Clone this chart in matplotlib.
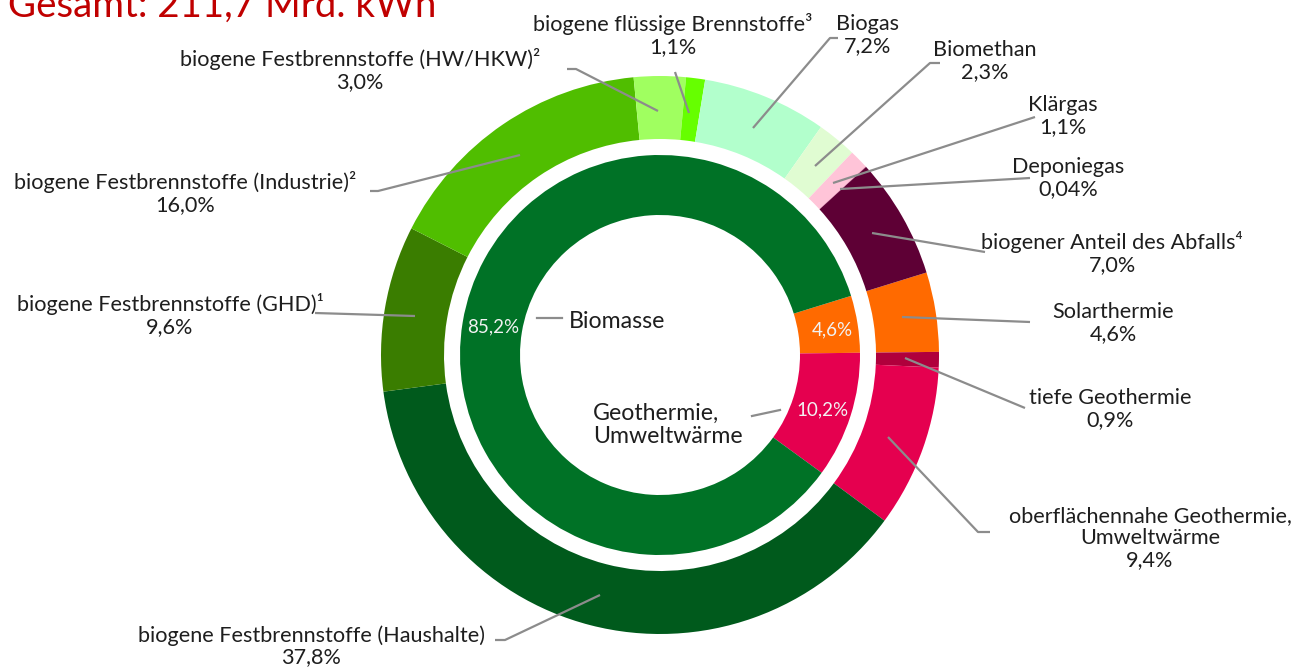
"""Doughnut chart: renewable heat 2020, share by source."""
import matplotlib
matplotlib.use('Agg')
import matplotlib.pyplot as plt

W, H = 1293, 670

# outer ring, clockwise from Solarthermie
outer_labels = ['Solarthermie', 'tiefe Geothermie',
                'oberflächennahe Geothermie,\nUmweltwärme',
                'biogene Festbrennstoffe (Haushalte)',
                'biogene Festbrennstoffe (GHD)¹',
                'biogene Festbrennstoffe (Industrie)²',
                'biogene Festbrennstoffe (HW/HKW)²',
                'biogene flüssige Brennstoffe³',
                'Biogas', 'Biomethan', 'Klärgas', 'Deponiegas',
                'biogener Anteil des Abfalls⁴']
outer_values = [4.6, 0.9, 9.4, 37.8, 9.6, 16.0, 3.0, 1.1, 7.2, 2.3, 1.1, 0.04, 7.0]
outer_text = ['4,6%', '0,9%', '9,4%', '37,8%', '9,6%', '16,0%', '3,0%',
              '1,1%', '7,2%', '2,3%', '1,1%', '0,04%', '7,0%']
outer_colors = ['#ff6a00', '#b0003c', '#e5004f', '#005a1c', '#3a7d00',
                '#50be00', '#a0ff60', '#66ff00', '#b2ffcc', '#e0fcd2',
                '#ffc4d8', '#f08cb4', '#5e0035']

# inner ring
inner_labels = ['Solarthermie', 'Geothermie,\nUmweltwärme', 'Biomasse']
inner_values = [4.6, 10.2, 85.2]
inner_text = ['4,6%', '10,2%', '85,2%']
inner_colors = ['#ff6a00', '#e5004f', '#007226']

# layout (pixel coords, y from top)
CX, CY = 660, 355
START = 17.2
FONT = ['Lato', 'DejaVu Sans']
LINE = '#8c8c8c'

# label centre (x, y of first line) and leader path for each outer slice
outer_label_pos = [(1113, 310), (1110, 396), (1150, 512), (311, 633),
                   (170, 302), (185, 180), (360, 57), (673, 22),
                   (868, 22), (985, 48), (1063, 103), (1068, 165),
                   (1112, 240)]
outer_leaders = [
    [(902, 317), (1030, 322)],
    [(905, 358), (1025, 408)],
    [(888, 437), (978, 532), (990, 532)],
    [(600, 595), (505, 640), (495, 640)],
    [(315, 313), (415, 316)],
    [(370, 191), (378, 191), (520, 155)],
    [(567, 69), (576, 69), (658, 111)],
    [(675, 72), (689, 113)],
    [(838, 38), (830, 38), (753, 128)],
    [(940, 63), (930, 63), (815, 166)],
    [(1035, 117), (833, 183)],
    [(1030, 178), (840, 189)],
    [(985, 252), (872, 233)],
]
inner_pct_pos = [(832, 330), (823, 410), (493, 327)]
inner_name_pos = [None, (593, 425), (569, 321)]
inner_leaders = [None, [(752, 416), (780, 410)], [(537, 318), (562, 318)]]


def fy(y):
    return H - y


fig = plt.figure(figsize=(W / 100, H / 100), dpi=100)
ax = fig.add_axes([0, 0, 1, 1])

ax.pie(outer_values, radius=279, center=(CX, fy(CY)), startangle=START,
       counterclock=False, colors=outer_colors,
       wedgeprops=dict(width=63, linewidth=0))
ax.pie(inner_values, radius=200, center=(CX, fy(CY)), startangle=START,
       counterclock=False, colors=inner_colors,
       wedgeprops=dict(width=60, linewidth=0))

ax.set_xlim(0, W)
ax.set_ylim(0, H)
ax.set_aspect('equal')
ax.axis('off')

for name, pct, (x, y), path in zip(outer_labels, outer_text,
                                   outer_label_pos, outer_leaders):
    n = name.count('\n') + 2
    # first line centred at y, lines ~26.5 px apart
    ax.text(x, fy(y + (n - 1) * 13.25), name + '\n' + pct, ha='center',
            va='center', fontsize=15.6, family=FONT, color='#1e1e1e',
            linespacing=1.12, multialignment='center')
    xs, ys = zip(*path)
    ax.plot(xs, [fy(v) for v in ys], color=LINE, lw=1.6,
            solid_capstyle='butt')

for name, pct, ppos, npos, path in zip(inner_labels, inner_text,
                                       inner_pct_pos, inner_name_pos,
                                       inner_leaders):
    ax.text(ppos[0], fy(ppos[1]), pct, ha='center', va='center',
            fontsize=13.5, family=FONT, color='#f2f2f2')
    if npos is not None:
        ax.text(npos[0], fy(npos[1]), name, ha='left', va='center',
                fontsize=16.7, family=FONT, color='#1e1e1e', linespacing=1.1)
        xs, ys = zip(*path)
        ax.plot(xs, [fy(v) for v in ys], color=LINE, lw=1.6)

fig.text(8 / W, 1 - 17 / H, 'Gesamt: 211,7 Mrd. kWh', ha='left',
         va='baseline', fontsize=27.7, family=FONT, color='#c00000')

fig.savefig('out.png', dpi=100)
